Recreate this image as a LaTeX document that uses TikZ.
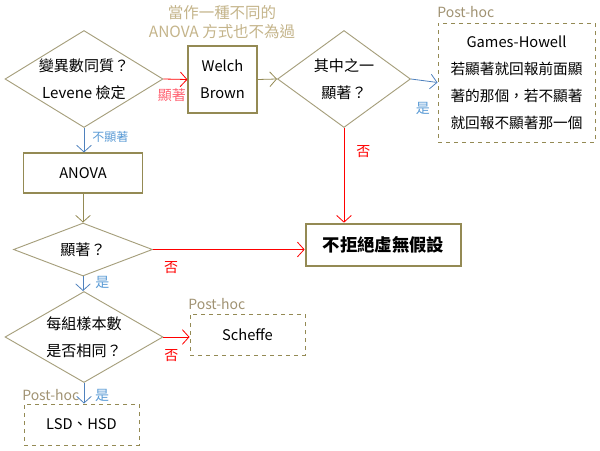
\documentclass[tikz,border=0pt]{standalone}
\usepackage{fontspec}
\setmainfont{Noto Sans CJK TC}
\usetikzlibrary{shapes.geometric,arrows.meta}
\definecolor{khaki}{HTML}{948A54}
\definecolor{dkhaki}{HTML}{A69F7C}
\definecolor{tantext}{HTML}{C4B48A}
\definecolor{phgray}{HTML}{A09272}
\definecolor{ablue}{HTML}{4F81BD}
\definecolor{lblue}{HTML}{5B9BD5}
\definecolor{ared}{HTML}{FF0000}
\definecolor{pinkred}{HTML}{FF6070}
\tikzset{
  tip/.style={-{Straight Barb[length=5pt,width=11pt]}, line width=0.6pt},
  dia/.style={diamond, draw=dkhaki, line width=0.7pt, aspect=1.63, inner sep=0pt, align=center, font=\fontsize{11.3}{20}\selectfont},
  solidbox/.style={draw=khaki, line width=0.8pt, align=center, font=\fontsize{11}{20}\selectfont},
  dashbox/.style={draw=khaki, dashed, line width=0.7pt, align=center, font=\fontsize{11}{20.3}\selectfont},
  phlabel/.style={text=phgray, font=\fontsize{10.5}{12}\selectfont, inner sep=0pt, anchor=base west},
  lbl/.style={font=\fontsize{10.5}{12}\selectfont, inner sep=0pt},
}
\begin{document}
\begin{tikzpicture}[x=0.75pt,y=-0.75pt]
\useasboundingbox (0,0) rectangle (600,450);
% diamonds
\node[dia, minimum width=158*0.75pt, minimum height=97*0.75pt] (d1) at (84,79) {變異數同質？\\Levene 檢定};
\node[dia, minimum width=133*0.75pt, minimum height=97*0.75pt] (d2) at (344,79) {其中之一\\顯著？};
\node[dia, minimum width=139*0.75pt, minimum height=53*0.75pt] (d3) at (83,249.5) {顯著？};
\node[dia, minimum width=158*0.75pt, minimum height=91*0.75pt] (d4) at (84,337) {每組樣本數\\是否相同？};
% boxes
\node[solidbox, minimum width=69*0.75pt, minimum height=67*0.75pt] (welch) at (222.5,79.5) {Welch\\Brown};
\node[solidbox, minimum width=119*0.75pt, minimum height=40*0.75pt] (anova) at (83,173) {ANOVA};
\node[draw=khaki, line width=2pt, minimum width=155*0.75pt, minimum height=42*0.75pt, font=\fontsize{13}{15}\selectfont\bfseries] (keep) at (383.5,245) {不拒絕虛無假設};
\node[dashbox, minimum width=157*0.75pt, minimum height=119*0.75pt] (gh) at (516.5,82.5) {Games-Howell\\若顯著就回報前面顯\\著的那個，若不顯著\\就回報不顯著那一個};
\node[dashbox, minimum width=115*0.75pt, minimum height=41*0.75pt] (sch) at (247.5,334.5) {Scheffe};
\node[dashbox, minimum width=115*0.75pt, minimum height=41*0.75pt] (lsd) at (81.5,424.5) {LSD、HSD};
% texts
\node[text=tantext, align=center, font=\fontsize{11.6}{14.5}\selectfont] (note) at (222,22) {當作一種不同的\\ANOVA 方式也不為過};
\node[phlabel] (ph1) at (437,17) {Post-hoc};
\node[phlabel] (ph2) at (188,309) {Post-hoc};
\node[phlabel] (ph3) at (22,400) {Post-hoc};
% connectors
\draw[tip, ared] (d1.east) -- (welch.west) node[lbl, text=pinkred, pos=0.35, below=7pt] {顯著};
\draw[tip, ablue] (d1.south) -- (d1.south |- anova.north) node[lbl, text=lblue, font=\fontsize{9}{10}\selectfont, pos=0.35, right=6pt] {不顯著};
\draw[tip, khaki] (anova.south) -- (anova.south |- d3.north);
\draw[tip, khaki] (welch.east) -- (d2.west);
\draw[tip, ablue] (d2.east) -- (gh.west) node[lbl, pos=0.45, below=16pt, text=lblue] {是};
\draw[tip, ared] (d2.south) -- (d2.south |- keep.north) node[lbl, pos=0.25, right=9pt] {否};
\draw[tip, ared] (d3.east) -- (d3.east -| keep.west) node[lbl, pos=0.12, below=9pt] {否};
\draw[tip, ablue] (d3.south) -- (d3.south |- d4.north) node[lbl, text=lblue, pos=0.4, right=9pt] {是};
\draw[tip, ared] (d4.east) -- (d4.east -| sch.west) node[lbl, pos=0.3, below=9pt] {否};
\draw[tip, ablue] (d4.south) -- (d4.south |- lsd.north) node[lbl, text=lblue, pos=0.6, right=8pt] {是};
\end{tikzpicture}
\end{document}
